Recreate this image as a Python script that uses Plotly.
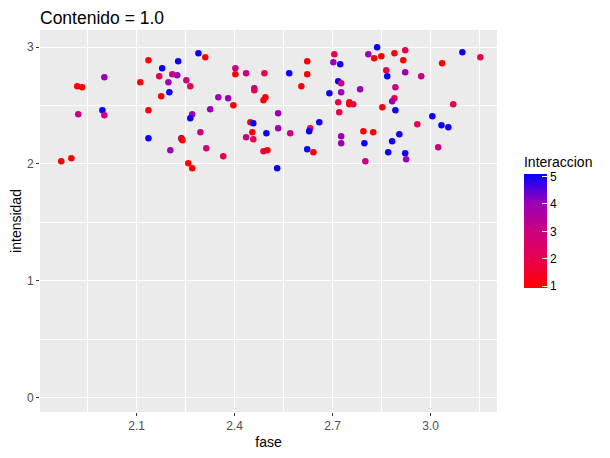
import plotly.graph_objects as go

# fase, intensidad, Interaccion (1 = rojo ... 5 = azul)
fase = [
    2.136, 2.001, 1.918, 1.933, 2.111, 2.136, 1.921, 1.995, 2.001, 2.136, 1.869, 1.900,
    2.289, 2.310, 2.227, 2.178, 2.169, 2.209, 2.224, 2.197, 2.175, 2.200, 2.252, 2.264,
    2.402, 2.402, 2.435, 2.460, 2.460, 2.350, 2.380, 2.396, 2.325, 2.270, 2.264, 2.448,
    2.457, 2.454, 2.435, 2.457, 2.295, 2.237, 2.237, 2.240, 2.203, 2.313, 2.365, 2.258,
    2.270,
    2.705, 2.809, 2.622, 2.702, 2.723, 2.491, 2.567, 2.622, 2.604, 2.717, 2.726, 2.784,
    2.690, 2.726, 2.494, 2.488, 2.717, 2.751, 2.751, 2.763, 2.720, 2.533, 2.659, 2.631,
    2.628, 2.533, 2.497, 2.570, 2.794, 2.726, 2.726, 2.797, 2.488, 2.500, 2.622, 2.641,
    2.800, 2.530,
    2.836, 2.922, 2.827, 2.849, 2.889, 2.916, 3.097, 3.152, 3.035, 2.864, 2.922, 2.867,
    2.971, 2.892, 2.889, 2.882, 2.852, 2.892, 3.069, 3.005, 2.959, 3.033, 3.054, 2.824,
    2.904, 2.882, 2.870, 2.922, 3.023, 2.925,
]
intensidad = [
    2.889, 2.743, 2.666, 2.657, 2.700, 2.460, 2.426, 2.460, 2.417, 2.220, 2.023, 2.049,
    2.949, 2.914, 2.880, 2.820, 2.751, 2.769, 2.760, 2.700, 2.580, 2.614, 2.717, 2.666,
    2.820, 2.769, 2.777, 2.649, 2.632, 2.572, 2.563, 2.503, 2.469, 2.426, 2.392, 2.357,
    2.349, 2.272, 2.229, 2.212, 2.272, 2.220, 2.217, 2.203, 2.117, 2.135, 2.066, 2.006,
    1.963,
    2.940, 2.940, 2.880, 2.871, 2.854, 2.777, 2.777, 2.769, 2.666, 2.709, 2.692, 2.640,
    2.606, 2.614, 2.572, 2.546, 2.529, 2.529, 2.512, 2.512, 2.443, 2.434, 2.357, 2.306,
    2.280, 2.306, 2.263, 2.263, 2.280, 2.237, 2.177, 2.177, 2.109, 2.117, 2.126, 2.100,
    2.023, 1.963,
    3.000, 2.974, 2.906, 2.923, 2.949, 2.889, 2.957, 2.914, 2.863, 2.803, 2.786, 2.751,
    2.751, 2.657, 2.563, 2.537, 2.486, 2.460, 2.512, 2.409, 2.340, 2.332, 2.314, 2.272,
    2.254, 2.194, 2.100, 2.092, 2.143, 2.040,
]
interaccion = [
    1, 4, 1, 1, 1, 1, 3, 5, 3, 5, 1, 1,
    5, 1, 5, 5, 2, 3, 4, 4, 1, 5, 3, 2,
    3, 1, 3, 4, 2, 4, 4, 1, 4, 4, 5, 1,
    5, 1, 3, 2, 3, 5, 1, 1, 4, 3, 2, 1,
    1,
    2, 4, 1, 4, 5, 2, 5, 1, 1, 5, 3, 4,
    5, 4, 1, 1, 2, 1, 1, 2, 2, 4, 5, 2,
    5, 4, 5, 3, 1, 4, 4, 5, 2, 1, 5, 1,
    3, 5,
    5, 2, 1, 1, 1, 1, 5, 2, 1, 2, 4, 5,
    3, 3, 2, 4, 1, 5, 2, 5, 2, 5, 5, 1,
    5, 5, 5, 5, 3, 4,
]

x_ticks = [2.1, 2.4, 2.7, 3.0]
y_ticks = [0, 1, 2, 3]
cbar_ticks = [1, 2, 3, 4, 5]

FONT = "Liberation Sans, Arial, sans-serif"
# red -> blue, interpolated roughly like ggplot's Lab gradient
scale = [
    [0.0, "#FF0000"],
    [0.25, "#E8004E"],
    [0.5, "#CB0080"],
    [0.75, "#9A00B8"],
    [1.0, "#0000FF"],
]

# the page body adds an 8px offset, so the figure is 8px smaller than the window
W, H = 602, 450
L, R, T, B = 32, 113, 22, 46

fig = go.Figure(
    go.Scatter(
        x=fase,
        y=intensidad,
        mode="markers",
        marker={
            "size": 6.5,
            "color": interaccion,
            "colorscale": scale,
            "cmin": 0.92,
            "cmax": 5.08,
            "line": {"width": 0},
            "colorbar": {
                "title": {"text": "Interaccion", "side": "top",
                          "font": {"size": 14, "color": "#000000", "family": FONT}},
                "tickvals": cbar_ticks,
                "ticks": "inside",
                "ticklen": 5,
                "tickcolor": "#FFFFFF",
                "tickfont": {"size": 12, "color": "#000000", "family": FONT},
                "thickness": 23,
                "len": 135,
                "lenmode": "pixels",
                "x": 1.059,
                "xanchor": "left",
                "xpad": 0,
                "y": 0.677,
                "yanchor": "top",
                "ypad": 0,
                "outlinewidth": 0,
            },
        },
        showlegend=False,
    )
)

fig.update_layout(
    width=W,
    height=H,
    margin={"l": L, "r": R, "t": T, "b": B, "autoexpand": False},
    paper_bgcolor="#FFFFFF",
    plot_bgcolor="#EBEBEB",
    font={"family": FONT, "color": "#000000"},
    title={"text": "Contenido = 1.0", "x": L / W, "xanchor": "left",
           "y": 1 - 9.5 / H, "yanchor": "middle",
           "font": {"size": 17.5, "color": "#000000"}},
)

axis_common = {
    "automargin": False,
    "showgrid": True,
    "gridcolor": "#FFFFFF",
    "gridwidth": 1.1,
    "zeroline": False,
    "showline": False,
    "ticks": "outside",
    "ticklen": 3,
    "tickcolor": "#333333",
    "tickfont": {"size": 12, "color": "#4D4D4D"},
    "title_font": {"size": 14, "color": "#000000"},
}

fig.update_xaxes(
    range=[1.804, 3.203],
    tickvals=x_ticks,
    ticktext=["2.1", "2.4", "2.7", "3.0"],
    title_text="fase",
    title_standoff=4,
    minor={"tickvals": [1.95, 2.25, 2.55, 2.85, 3.15], "showgrid": True,
           "gridcolor": "#FFFFFF", "gridwidth": 0.5, "ticks": ""},
    **axis_common,
)
fig.update_yaxes(
    range=[-0.125, 3.148],
    tickvals=y_ticks,
    title_text="intensidad",
    title_standoff=4,
    minor={"tickvals": [0.5, 1.5, 2.5], "showgrid": True,
           "gridcolor": "#FFFFFF", "gridwidth": 0.5, "ticks": ""},
    **axis_common,
)

fig.write_html("out.html")
